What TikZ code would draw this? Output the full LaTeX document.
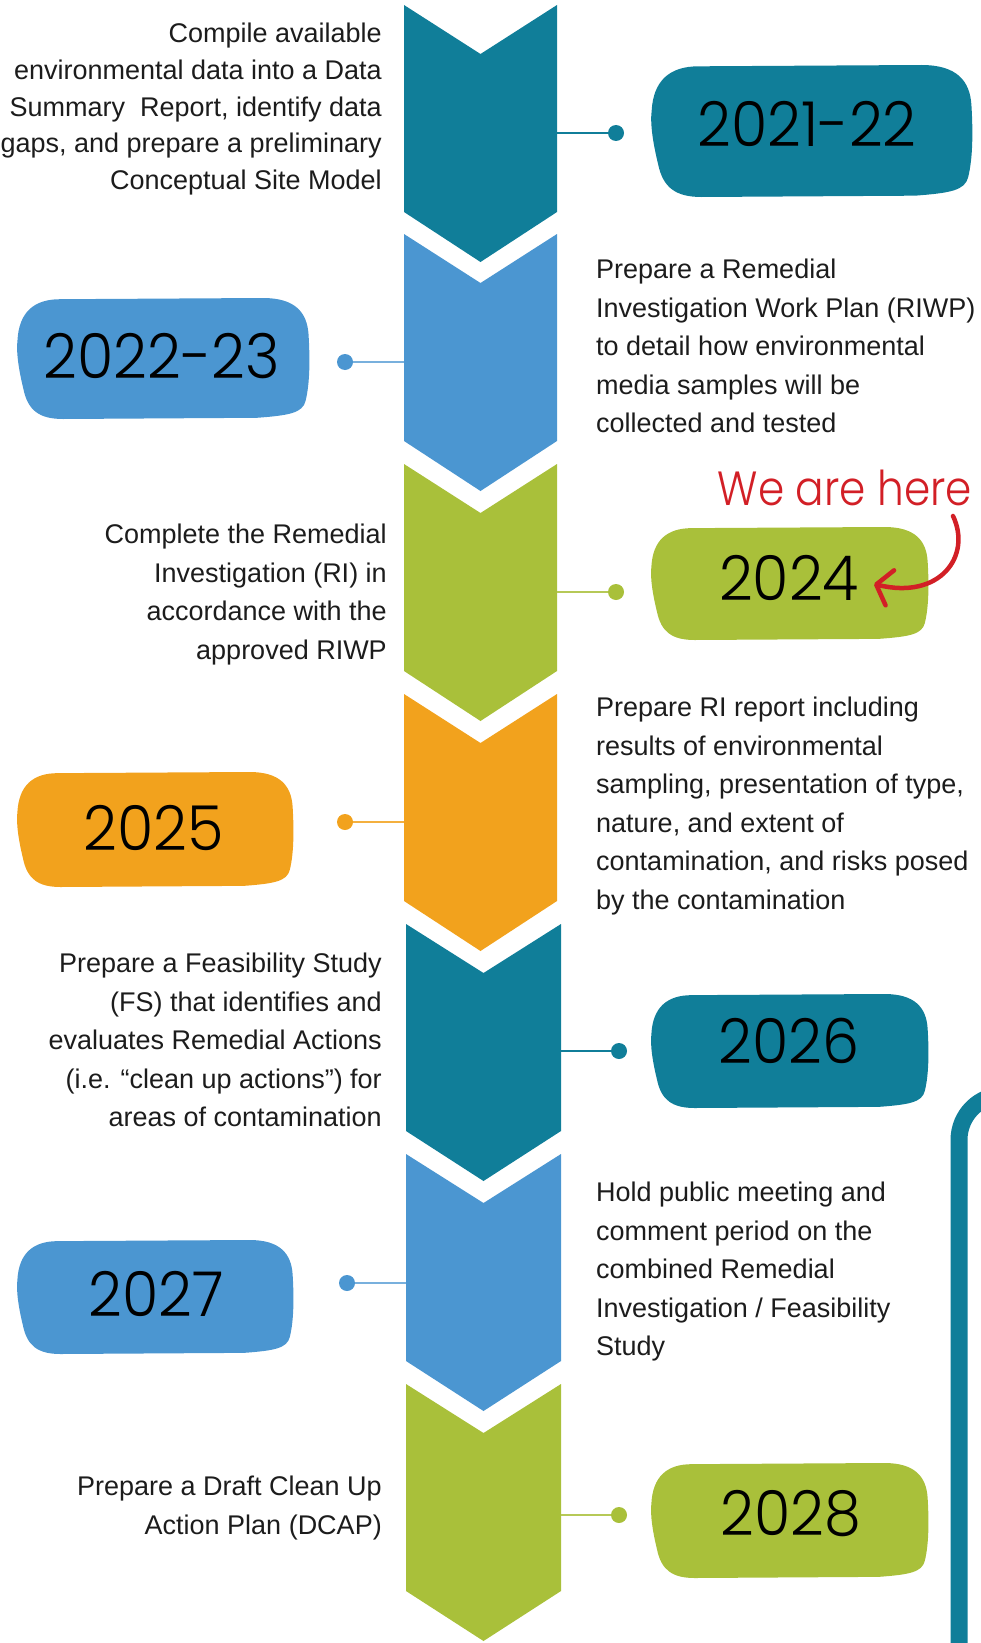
\documentclass[tikz,border=0pt]{standalone}
\usepackage{fontspec}
\setmainfont{Liberation Sans}
\newfontfamily\yearfont{Poppins Light}[FakeStretch=0.95]
\newfontfamily\herefont{Poppins Light}[FakeStretch=0.88]
\usetikzlibrary{arrows.meta}

\definecolor{tealstep}{HTML}{107E99}
\definecolor{bluestep}{HTML}{4B96D1}
\definecolor{greenstep}{HTML}{A9C03A}
\definecolor{orangestep}{HTML}{F2A21D}
\definecolor{herered}{HTML}{D21F26}
\definecolor{blurbgray}{HTML}{1C1C1C}

% one step of the timeline: left x, right x, top y, colour
\newcommand\chevron[4]{%
  \pgfmathsetmacro\cx{(#1+#2)/2}
  \fill[#4] (#1,#3) -- (\cx,#3+49) -- (#2,#3) -- (#2,#3+207) -- (\cx,#3+257) -- (#1,#3+207) -- cycle;}

% hand-drawn looking year badge: x1, y1, x2, y2, colour
\newcommand\badge[5]{%
  \pgfmathsetmacro\bw{#3-#1}
  \pgfmathsetmacro\bh{#4-#2}
  \begin{scope}[shift={(#1,#2)}, xscale=\bw, yscale=\bh]
    \fill[#5] (0.15,0.01) -- (0.84,0)
      .. controls (0.95,0) and (0.99,0.12) .. (0.995,0.3)
      .. controls (1,0.5) and (1,0.7) .. (0.985,0.85)
      .. controls (0.975,0.95) and (0.93,0.97) .. (0.82,0.99)
      -- (0.16,1)
      .. controls (0.08,1) and (0.04,0.93) .. (0.025,0.75)
      .. controls (0.01,0.6) and (0,0.45) .. (0.005,0.35)
      .. controls (0.01,0.12) and (0.06,0.01) .. (0.15,0.01) -- cycle;
  \end{scope}}

\begin{document}
\begin{tikzpicture}[x=1pt, y=-1pt,
    blurb/.style={inner sep=0pt, text=blurbgray, font=\fontsize{27}{38.5}\selectfont},
    year/.style={inner sep=0pt, font=\yearfont\fontsize{62}{62}\selectfont},
    dot/.style={circle, inner sep=0pt, minimum size=16pt},
    link/.style={line width=1.5pt}]
    \useasboundingbox (0,0) rectangle (981,1643);
    \clip (0,0) rectangle (981,1643);

    % the arrow column
    \chevron{404}{557}{5}{tealstep}
    \chevron{404}{557}{234}{bluestep}
    \chevron{404}{557}{464}{greenstep}
    \chevron{404}{557}{694}{orangestep}
    \chevron{406}{561}{924}{tealstep}
    \chevron{406}{561}{1154}{bluestep}
    \chevron{406}{561}{1384}{greenstep}

    % year badges
    \badge{650}{65}{973}{197}{tealstep}
    \badge{16}{298}{310}{419}{bluestep}
    \badge{650}{527}{929}{640}{greenstep}
    \badge{16}{772}{294}{887}{orangestep}
    \badge{650}{994}{929}{1108}{tealstep}
    \badge{16}{1240}{294}{1354}{bluestep}
    \badge{650}{1463}{929}{1578}{greenstep}

    \node[year] (yr1) at (807,124) {2021-22};
    \node[year] (yr2) at (162,356) {2022-23};
    \node[year] (yr3) at (789,578) {2024};
    \node[year] (yr4) at (154,828) {2025};
    \node[year] (yr5) at (789,1041) {2026};
    \node[year] (yr6) at (156,1294) {2027};
    \node[year] (yr7) at (791,1514) {2028};

    % dots and their ties to the column
    \node[dot, fill=tealstep] (d1) at (616,133) {};
    \node[dot, fill=bluestep] (d2) at (345,362) {};
    \node[dot, fill=greenstep] (d3) at (616,592) {};
    \node[dot, fill=orangestep] (d4) at (345,822) {};
    \node[dot, fill=tealstep] (d5) at (619,1051) {};
    \node[dot, fill=bluestep] (d6) at (347,1283) {};
    \node[dot, fill=greenstep] (d7) at (619,1515) {};
    \coordinate (c1) at (557,133);
    \coordinate (c2) at (404,362);
    \coordinate (c3) at (557,592);
    \coordinate (c4) at (404,822);
    \coordinate (c5) at (561,1051);
    \coordinate (c6) at (406,1283);
    \coordinate (c7) at (561,1515);
    \draw[link, tealstep] (c1) -- (d1);
    \draw[link, bluestep!75] (c2) -- (d2);
    \draw[link, greenstep!85] (c3) -- (d3);
    \draw[link, orangestep!85] (c4) -- (d4);
    \draw[link, tealstep] (c5) -- (d5);
    \draw[link, bluestep!75] (c6) -- (d6);
    \draw[link, greenstep!85] (c7) -- (d7);

    % what happens at each step
    \node[blurb, anchor=north east, align=right, font=\fontsize{27}{36.7}\selectfont] (t1) at (382,23)
      {Compile available\\environmental data into a Data\\Summary\ \ Report, identify data\\gaps, and prepare a preliminary\\Conceptual Site Model};
    \node[blurb, anchor=north west, align=left] (t2) at (596,259)
      {Prepare a Remedial\\Investigation Work Plan (RIWP)\\to detail how environmental\\media samples will be\\collected and tested};
    \node[blurb, anchor=north east, align=right] (t3) at (387,524)
      {Complete the Remedial\\Investigation (RI) in\\accordance with the\\approved RIWP};
    \node[blurb, anchor=north west, align=left] (t4) at (596,697)
      {Prepare RI report including\\results of environmental\\sampling, presentation of type,\\nature, and extent of\\contamination, and risks posed\\by the contamination};
    \node[blurb, anchor=north east, align=right] (t5) at (382,953)
      {Prepare a Feasibility Study\\(FS) that identifies and\\evaluates Remedial Actions\\(i.e. “clean up actions”) for\\areas of contamination};
    \node[blurb, anchor=north west, align=left] (t6) at (596,1182)
      {Hold public meeting and\\comment period on the\\combined Remedial\\Investigation / Feasibility\\Study};
    \node[blurb, anchor=north east, align=right] (t7) at (382,1476)
      {Prepare a Draft Clean Up\\Action Plan (DCAP)};

    % current position marker
    \node[inner sep=0pt, text=herered, font=\herefont\fontsize{48}{48}\selectfont] (here) at (845,488) {We are here};
    \coordinate (herefrom) at (953,516);
    \coordinate (hereto) at (874,584);
    \draw[herered, line width=4.5pt, line cap=round, -{Straight Barb[length=14pt, width=36pt, round]}]
      (herefrom) .. controls (972,556) and (940,600) .. (hereto);

    % bracket on the right edge
    \draw[tealstep, line width=17pt] (959,1660) -- (959,1140) .. controls (959,1115) and (979,1095) .. (1004,1095) -- (1040,1095);
\end{tikzpicture}
\end{document}
